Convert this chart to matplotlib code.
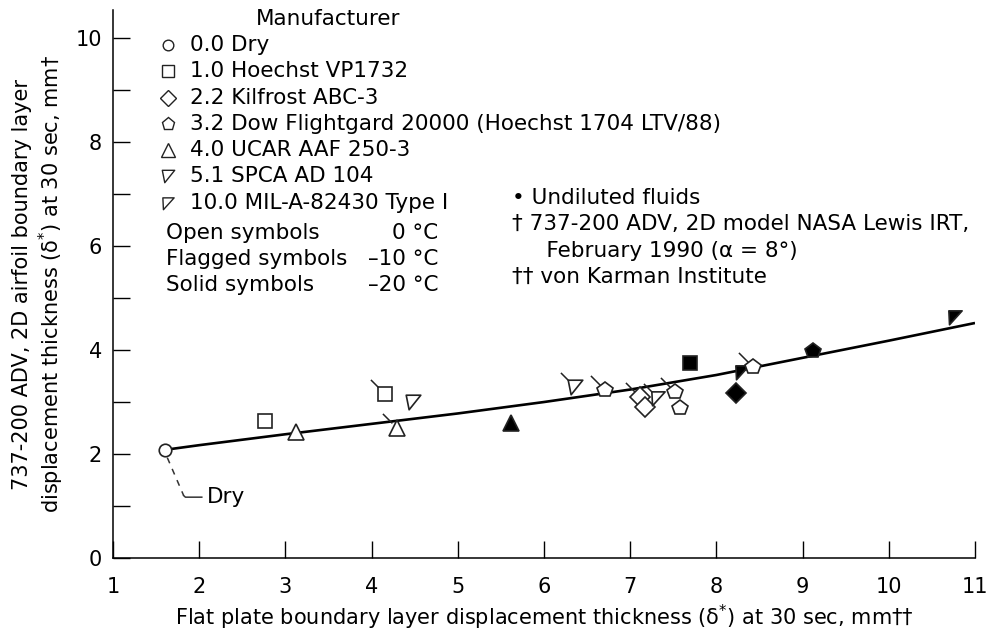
import matplotlib
matplotlib.use("Agg")
import matplotlib.pyplot as plt
from matplotlib.path import Path

plt.rcParams['font.family'] = ['DejaVu Sans']
plt.rcParams['mathtext.fontset'] = 'dejavusans'

FS = 15
FS_TXT = 15.5

# ---- data ----
x_flat = [1.60, 2.76, 3.12, 4.16, 4.29, 4.48, 5.62, 6.36, 6.71, 7.11,
          7.17, 7.32, 7.52, 7.58, 7.69, 8.23, 8.30, 8.42, 9.12, 10.77]
y_airfoil = [2.08, 2.63, 2.42, 3.15, 2.50, 3.00, 2.60, 3.29, 3.23, 3.10,
             2.90, 3.08, 3.19, 2.88, 3.75, 3.17, 3.58, 3.67, 3.98, 4.63]
fluid = ['0.0', '1.0', '4.0', '1.0', '4.0', '5.1', '4.0', '5.1', '3.2', '2.2',
         '2.2', '10.0', '3.2', '3.2', '1.0', '2.2', '10.0', '3.2', '3.2', '10.0']
condition = ['open', 'open', 'open', 'flag', 'flag', 'open', 'solid', 'flag', 'flag', 'flag',
             'open', 'flag', 'flag', 'open', 'solid', 'solid', 'solid', 'flag', 'solid', 'solid']

curve_x = [1.6, 2, 3, 4, 5, 6, 7, 8, 9, 10, 11]
curve_y = [2.08, 2.17, 2.38, 2.58, 2.78, 3.00, 3.24, 3.52, 3.85, 4.18, 4.52]

legend_codes = ['0.0', '1.0', '2.2', '3.2', '4.0', '5.1', '10.0']
legend_names = ['0.0 Dry', '1.0 Hoechst VP1732', '2.2 Kilfrost ABC-3',
                '3.2 Dow Flightgard 20000 (Hoechst 1704 LTV/88)', '4.0 UCAR AAF 250-3',
                '5.1 SPCA AD 104', '10.0 MIL-A-82430 Type I']
temp_labels = ['Open symbols', 'Flagged symbols', 'Solid symbols']
temp_values = ['0 °C', '–10 °C', '–20 °C']
notes = ['• Undiluted fluids', '† 737-200 ADV, 2D model NASA Lewis IRT,',
         '     February 1990 (α = 8°)', '†† von Karman Institute']

# ---- marker styles ----
spca = Path([(-1, 1), (1, 1), (-0.6, -1), (-1, 1)],
            [Path.MOVETO, Path.LINETO, Path.LINETO, Path.CLOSEPOLY])
mil = Path([(-1, 1), (1, 1), (-0.9, -1.1), (-1, 1)],
           [Path.MOVETO, Path.LINETO, Path.LINETO, Path.CLOSEPOLY])
markers = {'0.0': ('o', 9), '1.0': ('s', 10), '2.2': ('D', 10), '3.2': ('p', 11.5),
           '4.0': ('^', 11.5), '5.1': (spca, 10.5), '10.0': (mil, 10.5)}
flag = Path([(-0.35, 0.35), (-1, 1)], [Path.MOVETO, Path.LINETO])

W, H = 989, 637
fig = plt.figure(figsize=(W / 100, H / 100), dpi=100)
ax = fig.add_axes([113 / W, 1 - 558 / H, (975 - 113) / W, (558 - 10) / H])
ax.set_xlim(1, 11)
ax.set_ylim(0, 10.54)

ax.plot(curve_x, curve_y, color='black', lw=1.9, zorder=2, solid_capstyle='butt')

for xv, yv, f, c in zip(x_flat, y_airfoil, fluid, condition):
    m, ms = markers[f]
    face = 'black' if c == 'solid' else 'white'
    if c == 'flag':
        ax.plot([xv], [yv], marker=flag, ms=21, mew=1.1, color='#222222',
                ls='none', zorder=3)
    ax.plot([xv], [yv], marker=m, ms=ms, mfc=face, mec='#222222', mew=1.2,
            ls='none', zorder=4)

# Dry annotation
ax.plot([1.63, 1.82], [1.93, 1.2], color='#333333', lw=1.1, dashes=(4, 4))
ax.plot([1.82, 1.84, 2.03], [1.2, 1.17, 1.17], color='#333333', lw=1.1)
ax.text(2.09, 1.17, 'Dry', fontsize=FS_TXT, va='center', ha='left')

# axes styling
for s in ['top', 'right']:
    ax.spines[s].set_visible(False)
for s in ['left', 'bottom']:
    ax.spines[s].set_linewidth(1.1)
ax.set_xticks(range(1, 12))
ax.set_yticks([0, 2, 4, 6, 8, 10])
ax.set_yticks([1, 3, 5, 7, 9], minor=True)
ax.tick_params(axis='both', which='both', direction='in', length=12, width=1.0,
               labelsize=FS, pad=8)
ax.tick_params(axis='x', pad=14)

ax.set_xlabel('Flat plate boundary layer displacement thickness (δ$^{*}$) at 30 sec, mm††',
              fontsize=FS, labelpad=4)
ax.set_ylabel('737-200 ADV, 2D airfoil boundary layer\n'
              'displacement thickness (δ$^{*}$) at 30 sec, mm†',
              fontsize=FS, labelpad=7, linespacing=1.2)

# legend block
def fx(px):
    return px / W

def fy(py):
    return 1 - py / H

fig.text(fx(328), fy(19), 'Manufacturer', fontsize=FS_TXT, ha='center', va='center')
row_y = [45, 71, 98, 124, 150, 176, 203]
for code, name, ry in zip(legend_codes, legend_names, row_y):
    m, ms = markers[code]
    ax.plot([fx(168)], [fy(ry)], marker=m, ms=ms * 0.85, mfc='white', mec='#222222',
            mew=1.0, transform=fig.transFigure, clip_on=False, ls='none')
    fig.text(fx(190), fy(ry), name, fontsize=FS_TXT, ha='left', va='center')

for lab, val, ry in zip(temp_labels, temp_values, [233, 259, 285]):
    fig.text(fx(166), fy(ry), lab, fontsize=FS_TXT, ha='left', va='center')
    fig.text(fx(438), fy(ry), val, fontsize=FS_TXT, ha='right', va='center')

for txt, ry in zip(notes, [198, 224, 251, 277]):
    fig.text(fx(512), fy(ry), txt, fontsize=FS_TXT, ha='left', va='center')

fig.savefig('out.png', dpi=100)
